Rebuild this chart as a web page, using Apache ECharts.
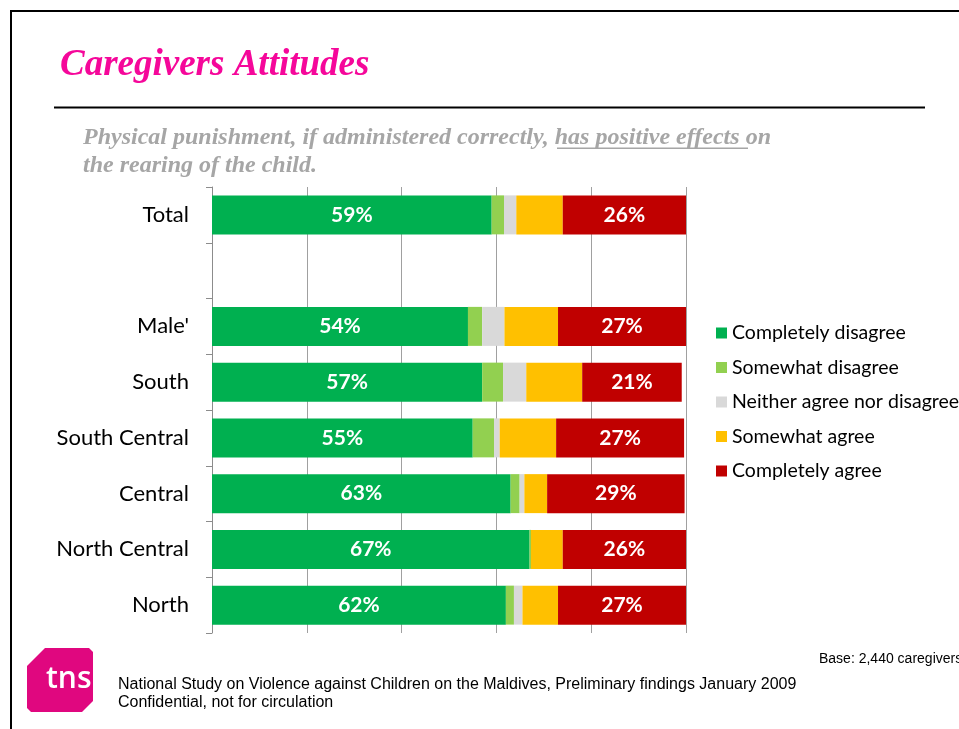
<!DOCTYPE html>
<html>
<head>
<meta charset="utf-8">
<script src="https://cdn.jsdelivr.net/npm/echarts@6/dist/echarts.min.js"></script>
<style>
  html, body { margin: 0; padding: 0; background: #fff; }
  #chart { width: 959px; height: 729px; }
</style>
</head>
<body>
<div id="chart"></div>
<script>
// Regions, top to bottom (blank row separates the total from the breakdown)
var categories = ['Total', '', "Male'", 'South', 'South Central', 'Central', 'North Central', 'North'];

// Share of caregivers per answer, in percent
var completelyDisagree = [59, null, 54, 57, 55, 63, 67, 62];
var somewhatDisagree   = [2.6, null, 3.0, 4.4, 4.5, 1.9, 0.3, 1.7];
var neitherAgree       = [2.6, null, 4.7, 4.9, 1.2, 1.0, 0, 1.8];
var somewhatAgree      = [9.8, null, 11.3, 11.8, 11.9, 4.8, 6.7, 7.5];
var completelyAgree    = [26, null, 27, 21, 27, 29, 26, 27];

var seriesNames = ['Completely disagree', 'Somewhat disagree', 'Neither agree nor disagree', 'Somewhat agree', 'Completely agree'];
var seriesColors = ['#00B050', '#92D050', '#D9D9D9', '#FFC000', '#C00000'];
var seriesData = [completelyDisagree, somewhatDisagree, neitherAgree, somewhatAgree, completelyAgree];
var labelled = [true, false, false, false, true];

var chart = echarts.init(document.getElementById('chart'), null, { renderer: 'canvas' });

var series = seriesNames.map(function (name, i) {
  return {
    name: name,
    type: 'bar',
    stack: 'total',
    barWidth: 39,
    data: seriesData[i],
    itemStyle: { color: seriesColors[i] },
    label: {
      show: labelled[i],
      position: 'inside',
      formatter: function (p) { return p.value == null ? '' : p.value + '%'; },
      color: '#fff',
      fontFamily: 'Lato',
      fontWeight: 'bold',
      fontSize: 21
    },
    emphasis: { disabled: true },
    animation: false
  };
});

var option = {
  backgroundColor: '#fff',
  animation: false,
  grid: { left: 212, right: 273, top: 187, bottom: 96, containLabel: false },
  legend: {
    orient: 'vertical',
    left: 711,
    top: 318,
    itemWidth: 11,
    itemHeight: 11,
    itemGap: 14.5,
    icon: 'rect',
    selectedMode: false,
    textStyle: { fontFamily: 'Lato', fontSize: 19.5, color: '#000' },
    data: seriesNames
  },
  xAxis: {
    type: 'value',
    min: 0,
    max: 100,
    interval: 20,
    axisLabel: { show: false },
    axisLine: { show: false },
    axisTick: { show: false },
    splitLine: { show: true, lineStyle: { color: '#A0A0A0', width: 1 } }
  },
  yAxis: {
    type: 'category',
    inverse: true,
    data: categories,
    axisLine: { show: true, lineStyle: { color: '#8C8C8C', width: 1 } },
    axisTick: { show: true, length: 6, lineStyle: { color: '#8C8C8C' } },
    axisLabel: { margin: 23, fontFamily: 'Lato', fontSize: 22, color: '#000' }
  },
  series: series,
  graphic: [
    // slide frame
    { type: 'rect', shape: { x: 11, y: 11, width: 1000, height: 1000 }, style: { fill: 'none', stroke: '#000', lineWidth: 2 }, silent: true },
    // heading
    { type: 'text', left: 60, top: 47, style: { text: 'Caregivers Attitudes', fill: '#F5079A', font: 'italic bold 37px "Liberation Serif"' } },
    { type: 'rect', shape: { x: 54, y: 106.5, width: 871, height: 2 }, style: { fill: '#000' } },
    // statement
    { type: 'text', left: 83, top: 126, style: { text: 'Physical punishment, if administered correctly, has positive effects on', fill: '#A6A6A6', font: 'italic bold 24px "Liberation Serif"' } },
    { type: 'text', left: 83, top: 154, style: { text: 'the rearing of the child.', fill: '#A6A6A6', font: 'italic bold 24px "Liberation Serif"' } },
    { type: 'rect', shape: { x: 557, y: 147.5, width: 191, height: 1.5 }, style: { fill: '#A6A6A6' } },
    // logo
    { type: 'polygon', shape: { points: [[45, 648], [89, 648], [93, 652], [93, 701], [82, 712], [31, 712], [27, 708], [27, 666]] }, style: { fill: '#E0077F' } },
    { type: 'text', left: 46, top: 664, style: { text: 'tns', fill: '#fff', font: '600 30px "Open Sans"' } },
    // footer
    { type: 'text', left: 118, top: 677, style: { text: 'National Study on Violence against Children on the Maldives, Preliminary findings January 2009', fill: '#000', font: '16px "Liberation Sans"' } },
    { type: 'text', left: 118, top: 695, style: { text: 'Confidential, not for circulation', fill: '#000', font: '16px "Liberation Sans"' } },
    { type: 'text', left: 819, top: 652, style: { text: 'Base: 2,440 caregivers', fill: '#000', font: '14px "Liberation Sans"' } }
  ]
};

chart.setOption(option);
</script>
</body>
</html>
